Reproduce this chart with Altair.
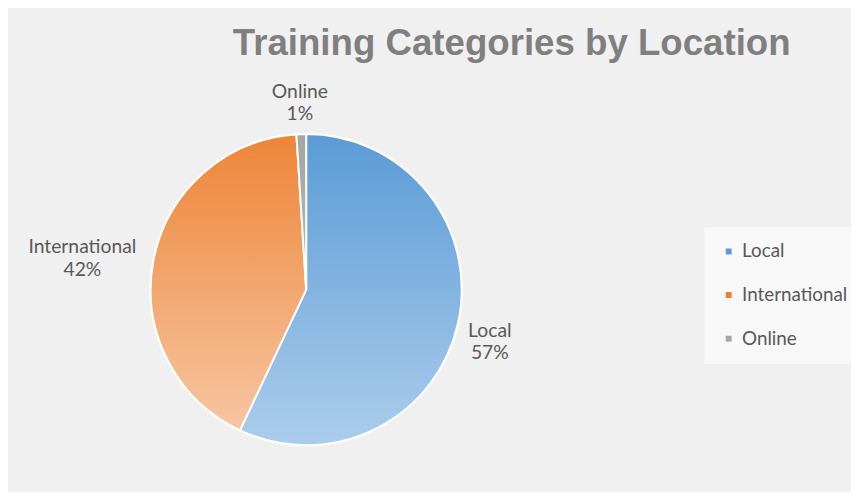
import math
import altair as alt
import pandas as pd

categories = ["Local", "International", "Online"]
values = [57, 42, 1]
order = [0, 1, 2]
pct_labels = ["57%", "42%", "1%"]
title_text = "Training Categories by Location"

base_colors = ["#5b9bd5", "#ed7d31", "#a5a5a5"]
gradients = {
    "Local": ("#5b9bd5", "#abcdec"),
    "International": ("#ee8538", "#f6c6a2"),
    "Online": ("#a5a5a5", "#b5b5b5"),
}
label_radius = {"Local": 190, "International": 230, "Online": 200}

df = pd.DataFrame({
    "category": categories,
    "value": values,
    "order": order,
    "pct": pct_labels,
})

CX, CY, R = 301, 220, 157
theta_scale = alt.Scale(domain=[0, 100], range=[0, 2 * math.pi])

base = (
    alt.Chart(df)
    .transform_window(cum="sum(value)", sort=[alt.SortField("order")], frame=[None, 0])
    .transform_calculate(start="datum.cum - datum.value",
                         mid="datum.cum - datum.value / 2",
                         label="datum.category + '\\n' + datum.pct")
)

legend_arc = base.mark_arc(outerRadius=R, stroke="white", strokeWidth=2).encode(
    theta=alt.Theta("start:Q", scale=theta_scale),
    theta2="cum:Q",
    x=alt.value(CX),
    y=alt.value(CY),
    color=alt.Color(
        "category:N",
        scale=alt.Scale(domain=categories, range=base_colors),
        sort=categories,
        legend=alt.Legend(
            title=None,
            orient="none",
            legendX=703,
            legendY=157,
            padding=15,
            fillColor="#f8f8f8",
            symbolType="square",
            symbolSize=50,
            symbolStrokeColor="white",
            symbolStrokeWidth=1,
            labelFont="Lato",
            labelFontSize=19,
            labelColor="#595959",
            labelOffset=4,
            rowPadding=24,
        ),
    ),
)

layers = [legend_arc]
for c in categories:
    top, bottom = gradients[c]
    grad = alt.LinearGradient(
        gradient="linear", x1=0, y1=0, x2=0, y2=1,
        stops=[alt.GradientStop(offset=0, color=top), alt.GradientStop(offset=1, color=bottom)],
    )
    layers.append(
        base.transform_filter(alt.datum.category == c)
        .mark_arc(outerRadius=R, fill=grad, stroke="white", strokeWidth=2)
        .encode(theta=alt.Theta("start:Q", scale=theta_scale), theta2="cum:Q",
                x=alt.value(CX), y=alt.value(CY))
    )

for c in categories:
    layers.append(
        base.transform_filter(alt.datum.category == c)
        .mark_text(font="Lato", fontSize=19.5, color="#595959", align="center",
                   baseline="middle", lineBreak="\n", lineHeight=23)
        .encode(theta=alt.Theta("mid:Q", scale=theta_scale),
                radius=alt.value(label_radius[c]),
                x=alt.value(CX), y=alt.value(CY),
                text="label:N")
    )

chart = (
    alt.layer(*layers)
    .properties(
        width=851,
        height=422,
        padding={"top": 62, "left": 0, "right": 0, "bottom": 0},
        autosize=alt.AutoSizeParams(type="none"),
        background="#f0f0f0",
        title=alt.TitleParams(
            title_text, font="Liberation Sans", fontSize=37, fontWeight="bold",
            color="#7f7f7f", anchor="middle", dx=83, dy=34, baseline="alphabetic", offset=14,
        ),
    )
    .configure_view(stroke=None)
)

chart.save("out.html", embed_options={"renderer": "svg", "actions": False})
